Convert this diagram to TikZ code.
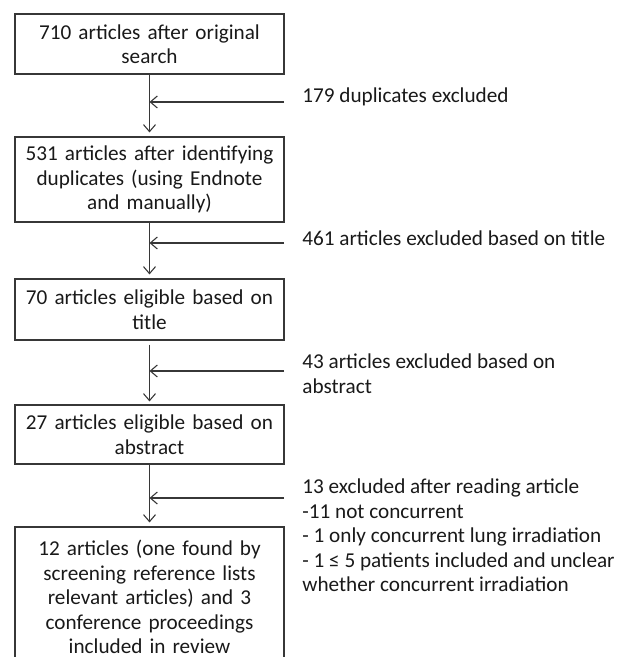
\documentclass[tikz,border=0pt]{standalone}
\usepackage{fontspec}
\setmainfont{Carlito}
\usetikzlibrary{arrows.meta}
\definecolor{flowgray}{RGB}{55,55,55}

\begin{document}
\begin{tikzpicture}[x=0.5pt, y=-0.5pt,
    font=\fontsize{10.6}{12.25}\selectfont,
    stage/.style={draw=flowgray, line width=0.55pt, text=black!90, text width=130pt,
      align=center, minimum width=134.5pt, inner xsep=0pt},
    note/.style={anchor=north west, inner sep=0pt, align=left, text=black!90},
    arr/.style={draw=flowgray, line width=0.55pt, -{Straight Barb[length=3.5pt, width=6pt]}}]
  \useasboundingbox (0,0) rectangle (630,657);

  % main boxes
  \node[stage, minimum height=30pt] (orig) at (149.5,44) {710 articles after original\\search};
  \node[stage, minimum height=42.5pt] (dedup) at (149.5,179.5) {531 articles after identifying\\duplicates (using Endnote\\and manually)};
  \node[stage, minimum height=30.5pt] (title) at (149.5,309.5) {70 articles eligible based on\\title};
  \node[stage, minimum height=29.5pt] (abstr) at (149.5,434.5) {27 articles eligible based on\\abstract};
  \node[stage, minimum height=70pt] (incl) at (149.5,597) {12 articles (one found by\\screening reference lists\\relevant articles) and 3\\conference proceedings\\included in review};

  % flow down
  \draw[arr, shorten >=2pt] (orig) -- (dedup);
  \draw[arr, shorten >=2pt] (dedup) -- (title);
  \draw[arr, shorten <=2pt, shorten >=1.5pt] (title) -- (abstr);
  \draw[arr, shorten >=2pt] (abstr) -- (incl);

  % exclusions
  \node[note] (exdup) at (302,85) {\strut 179 duplicates excluded};
  \node[note] (extitle) at (302,228) {\strut 461 articles excluded based on title};
  \node[note] (exabs) at (302,351) {\strut 43 articles excluded based on\\abstract};
  \node[note] (exread) at (302,476) {\strut 13 excluded after reading article\\-11 not concurrent\\- 1 only concurrent lung irradiation\\- 1 ≤ 5 patients included and unclear\\whether concurrent irradiation};

  \coordinate (c1) at (284,102);
  \coordinate (c2) at (284,243);
  \coordinate (c3) at (284,371);
  \coordinate (c4) at (284,498);
  \draw[arr] (c1) -- (c1 -| orig.south);
  \draw[arr] (c2) -- (c2 -| dedup.south);
  \draw[arr] (c3) -- (c3 -| title.south);
  \draw[arr] (c4) -- (c4 -| abstr.south);
\end{tikzpicture}
\end{document}
